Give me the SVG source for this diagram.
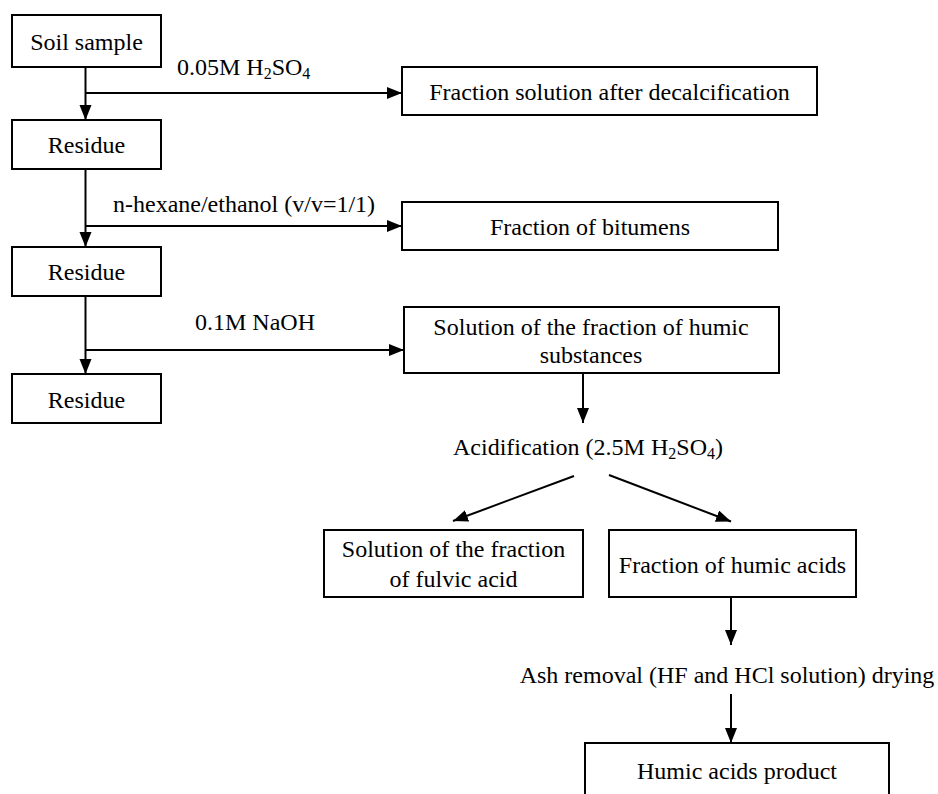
<svg xmlns="http://www.w3.org/2000/svg" width="938" height="794" viewBox="0 0 938 794">
<style>
  .box { fill: #fff; stroke: #000; stroke-width: 2; }
  .t { font-family: "Liberation Serif", Tinos, "Times New Roman", "DejaVu Serif", serif; font-size: 24px; fill: #000; }
  .c { text-anchor: middle; }
  .sub { font-size: 16px; }
  .ln { stroke: #000; stroke-width: 2; fill: none; marker-end: url(#ah); }
  .pl { stroke: #000; stroke-width: 2; fill: none; }
</style>
<defs>
  <marker id="ah" markerUnits="userSpaceOnUse" markerWidth="16" markerHeight="14" refX="15" refY="6" orient="auto">
    <path d="M0,0 L15,6 L0,12 z" fill="#000"/>
  </marker>
</defs>
<rect width="938" height="794" fill="#fff"/>

<g id="connectors">
  <line class="pl" x1="85.5" y1="67" x2="85.5" y2="93"/>
  <line class="ln" x1="85.5" y1="93" x2="85.5" y2="120"/>
  <line class="ln" x1="85.5" y1="93" x2="402" y2="93"/>
  <line class="pl" x1="85.5" y1="169" x2="85.5" y2="226"/>
  <line class="ln" x1="85.5" y1="226" x2="85.5" y2="247"/>
  <line class="ln" x1="85.5" y1="226" x2="402" y2="226"/>
  <line class="pl" x1="85.5" y1="296" x2="85.5" y2="350"/>
  <line class="ln" x1="85.5" y1="350" x2="85.5" y2="374"/>
  <line class="ln" x1="85.5" y1="350" x2="404" y2="350"/>
  <line class="ln" x1="583" y1="373" x2="583" y2="423"/>
  <line class="ln" x1="574" y1="476" x2="453" y2="521"/>
  <line class="ln" x1="609" y1="475" x2="731" y2="521.5"/>
  <line class="ln" x1="731" y1="597" x2="731" y2="645"/>
  <line class="ln" x1="731" y1="694" x2="731" y2="743"/>
</g>

<g id="label-h2so4">
  <text class="t" x="177" y="75">0.05M H<tspan class="sub" dy="4">2</tspan><tspan dy="-4">SO</tspan><tspan class="sub" dy="4">4</tspan></text>
</g>
<g id="label-hexane">
  <text class="t" x="113" y="212">n-hexane/ethanol (v/v=1/1)</text>
</g>
<g id="label-naoh">
  <text class="t" x="195" y="330">0.1M NaOH</text>
</g>

<g id="soil-sample">
  <rect class="box" x="12" y="15" width="149" height="52"/>
  <text class="t c" x="86.5" y="50">Soil sample</text>
</g>
<g id="residue-1">
  <rect class="box" x="12" y="120" width="149" height="49"/>
  <text class="t c" x="86.5" y="153">Residue</text>
</g>
<g id="residue-2">
  <rect class="box" x="12" y="247" width="149" height="49"/>
  <text class="t c" x="86.5" y="280">Residue</text>
</g>
<g id="residue-3">
  <rect class="box" x="12" y="374" width="149" height="49"/>
  <text class="t c" x="86.5" y="408">Residue</text>
</g>
<g id="decalcification">
  <rect class="box" x="402" y="67" width="415" height="48"/>
  <text class="t c" x="609.5" y="100">Fraction solution after decalcification</text>
</g>
<g id="bitumens">
  <rect class="box" x="402" y="202" width="376" height="48"/>
  <text class="t c" x="590" y="235">Fraction of bitumens</text>
</g>
<g id="humic-substances">
  <rect class="box" x="404" y="307" width="375" height="66"/>
  <text class="t c" x="591" y="335">Solution of the fraction of humic</text>
  <text class="t c" x="591" y="363">substances</text>
</g>
<g id="acidification">
  <text class="t c" x="588" y="455">Acidification (2.5M H<tspan class="sub" dy="4">2</tspan><tspan dy="-4">SO</tspan><tspan class="sub" dy="4">4</tspan><tspan dy="-4">)</tspan></text>
</g>
<g id="fulvic">
  <rect class="box" x="324" y="530" width="259" height="67"/>
  <text class="t c" x="453.5" y="557">Solution of the fraction</text>
  <text class="t c" x="453.5" y="587">of fulvic acid</text>
</g>
<g id="humic-acids">
  <rect class="box" x="609" y="530" width="247" height="67"/>
  <text class="t c" x="732.5" y="573">Fraction of humic acids</text>
</g>
<g id="ash-removal">
  <text class="t c" x="727" y="683">Ash removal (HF and HCl solution) drying</text>
</g>
<g id="product">
  <rect class="box" x="585" y="743" width="304" height="60"/>
  <text class="t c" x="737" y="779">Humic acids product</text>
</g>
</svg>
